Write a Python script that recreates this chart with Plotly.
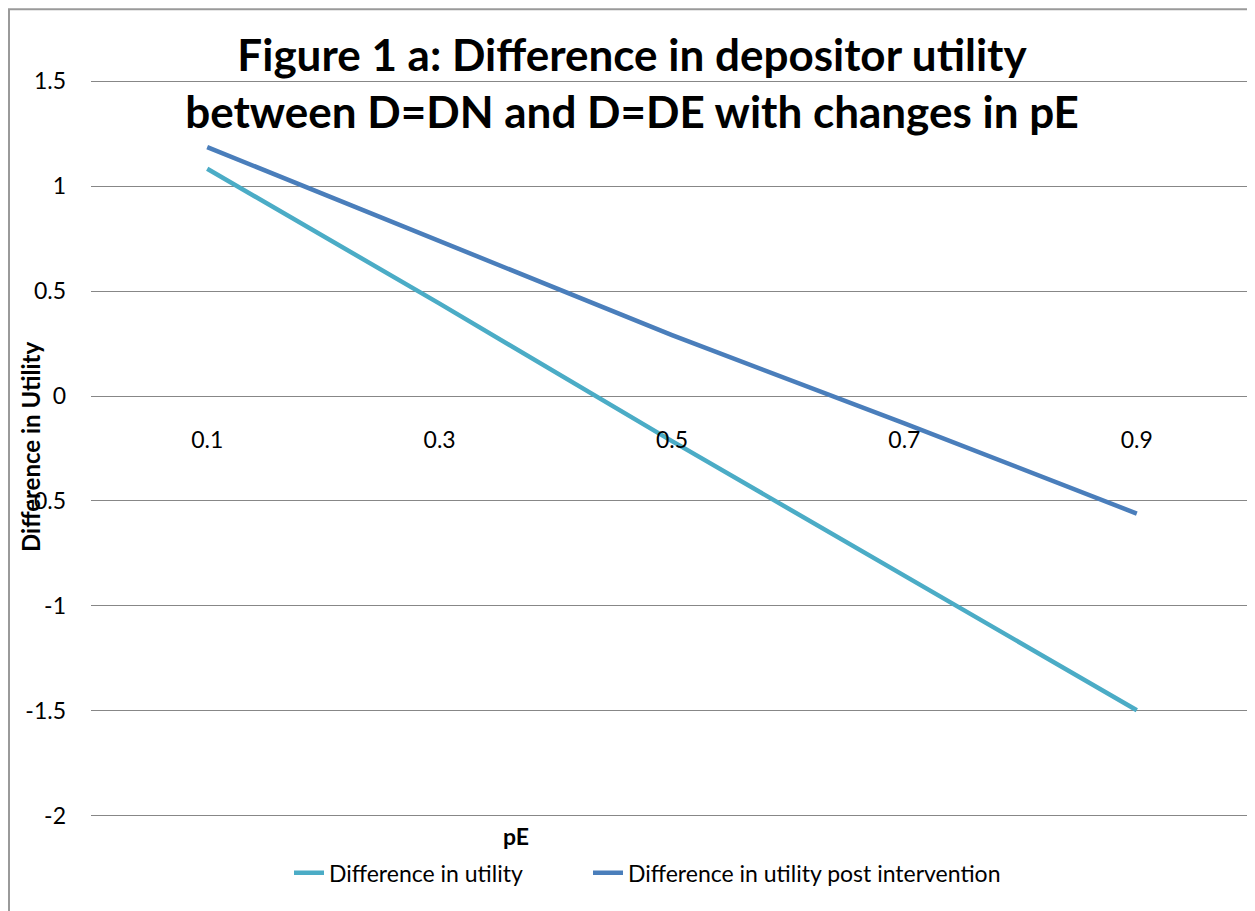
import plotly.graph_objects as go

# ---- data ----
categories = ["0.1", "0.3", "0.5", "0.7", "0.9"]
diff_utility = [1.083, 0.44, -0.215, -0.857, -1.497]
diff_utility_post = [1.186, 0.739, 0.29, -0.13, -0.56]
series_names = ["Difference in utility", "Difference in utility post intervention"]
y_ticks = [-2, -1.5, -1, -0.5, 0, 0.5, 1, 1.5]
y_tick_text = ["-2", "-1.5", "-1", "-0.5", "0", "0.5", "1", "1.5"]

OFF = 8  # page body margin
W, H = 1255 - OFF, 911 - OFF
ymin, ymax = -2, 1.5
pad = 0.015
# page coordinates of plot area edges
PL, PR, PT, PB = 91, 1253, 81, 816
ppu = (PB - PT) / (ymax - ymin)
PT2 = PT - pad * ppu
PB2 = PB + pad * ppu
L = PL - OFF
R = 1255 - PR
T = PT2 - OFF
B = 911 - PB2
pw, ph = W - L - R, H - T - B

def fx(p):
    return (p - OFF - L) / pw

def fy(p):
    return (H - B - (p - OFF)) / ph

FONT = "Lato"

fig = go.Figure()
fig.add_trace(go.Scatter(x=categories, y=diff_utility, mode="lines", name=series_names[0],
                         line=dict(color="#4BACC6", width=4.5), legend="legend"))
fig.add_trace(go.Scatter(x=categories, y=diff_utility_post, mode="lines", name=series_names[1],
                         line=dict(color="#4A7EBB", width=4.5), legend="legend2"))

zero_pos = (0 - (ymin - pad)) / ((ymax + pad) - (ymin - pad))

leg_common = dict(orientation="h", yanchor="middle", xanchor="left",
                  font=dict(size=23, family=FONT), bgcolor="rgba(0,0,0,0)", itemwidth=30)

fig.update_layout(
    width=W, height=H,
    margin=dict(l=L, r=R, t=T, b=B, autoexpand=False),
    paper_bgcolor="white", plot_bgcolor="white",
    font=dict(family=FONT, size=23, color="black"),
    title=dict(text="<b>Figure 1 a: Difference in depositor utility<br>between D=DN and D=DE with changes in pE</b>",
               x=fx(632), xref="paper", xanchor="center",
               y=1 - (71 - OFF) / H, yanchor="middle", yref="container",
               font=dict(family=FONT, size=44, color="black")),
    xaxis=dict(type="category", range=[-0.5, 4.5], anchor="free", position=zero_pos,
               showgrid=False, showline=False, zeroline=False,
               ticks="", ticklabelstandoff=28, tickfont=dict(size=23)),
    yaxis=dict(range=[ymin - pad, ymax + pad], tickvals=y_ticks, ticktext=y_tick_text,
               showgrid=True, gridcolor="#878787", gridwidth=1.3,
               zeroline=False, showline=False, ticks="",
               ticklabelstandoff=24, tickfont=dict(size=23)),
    legend=dict(x=fx(289), y=fy(873), **leg_common),
    legend2=dict(x=fx(588), y=fy(873), **leg_common),
    showlegend=True,
)

fig.add_annotation(text="<b>Difference in Utility</b>", textangle=-90,
                   x=fx(30), y=fy(447), xref="paper", yref="paper",
                   xanchor="center", yanchor="middle",
                   showarrow=False, font=dict(size=24, family=FONT))
fig.add_annotation(text="<b>pE</b>", x=fx(516), y=fy(836), xref="paper", yref="paper",
                   xanchor="center", yanchor="middle",
                   showarrow=False, font=dict(size=23, family=FONT))

fig.add_shape(type="rect", xref="paper", yref="paper",
              x0=fx(OFF + 1), x1=fx(1254), y0=fy(915), y1=fy(OFF + 1),
              line=dict(color="#9a9a9a", width=2), fillcolor="rgba(0,0,0,0)", layer="below")

fig.write_html("out.html")
